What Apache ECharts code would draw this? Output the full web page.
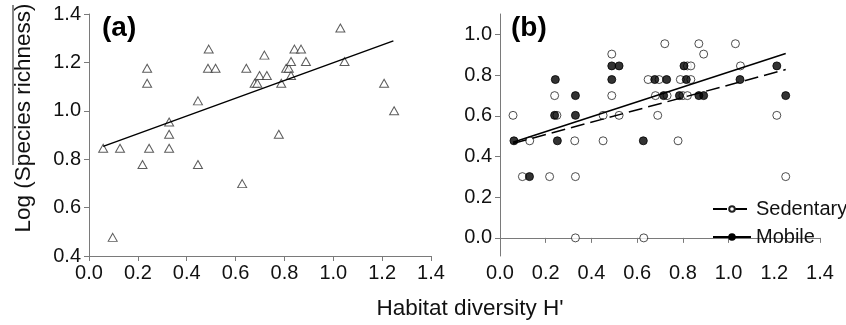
<!DOCTYPE html>
<html>
<head>
<meta charset="utf-8">
<script src="https://cdn.jsdelivr.net/npm/echarts@6/dist/echarts.min.js"></script>
<style>html,body{margin:0;padding:0;background:#fff;}#c{width:846px;height:325px;}</style>
</head>
<body>
<div id="c"></div>
<script>
// ---- Data ----
const xTicks = [0, 0.2, 0.4, 0.6, 0.8, 1.0, 1.2, 1.4];
const yTicksA = [0.4, 0.6, 0.8, 1.0, 1.2, 1.4];
const yTicksB = [0.0, 0.2, 0.4, 0.6, 0.8, 1.0];

// Panel (a): all species
const aX = [0.058,0.127,0.238,0.238,0.246,0.219,0.328,0.328,0.328,0.097,0.446,0.446,0.490,0.487,0.518,0.627,0.644,0.678,0.689,0.698,0.718,0.728,0.777,0.787,0.807,0.818,0.827,0.827,0.841,0.868,0.888,1.029,1.046,1.208,1.249];
const aY = [0.845,0.845,1.176,1.114,0.845,0.778,0.954,0.903,0.845,0.477,1.041,0.778,1.255,1.176,1.176,0.699,1.176,1.114,1.114,1.146,1.230,1.146,0.903,1.114,1.176,1.176,1.146,1.204,1.255,1.255,1.204,1.342,1.204,1.114,1.000];
const aLineX = [0.058, 1.246];
const aLineY = [0.853, 1.289];

// Panel (b): sedentary (open) and mobile (filled)
const sedX = [0.057,0.130,0.098,0.217,0.239,0.249,0.327,0.330,0.330,0.451,0.451,0.489,0.489,0.521,0.629,0.648,0.680,0.690,0.696,0.721,0.731,0.779,0.789,0.800,0.835,0.820,0.835,0.820,0.870,0.891,1.030,1.052,1.211,1.250];
const sedY = [0.602,0.477,0.301,0.301,0.699,0.602,0.477,0.301,0.000,0.602,0.477,0.903,0.699,0.602,0.000,0.778,0.699,0.602,0.778,0.954,0.699,0.477,0.778,0.699,0.778,0.845,0.845,0.699,0.954,0.903,0.954,0.845,0.602,0.301];
const mobX = [0.061,0.129,0.242,0.239,0.251,0.330,0.330,0.489,0.521,0.489,0.627,0.677,0.729,0.716,0.785,0.805,0.815,0.870,0.891,1.050,1.211,1.250];
const mobY = [0.477,0.301,0.778,0.602,0.477,0.699,0.602,0.845,0.845,0.778,0.477,0.778,0.778,0.699,0.699,0.845,0.778,0.699,0.699,0.778,0.845,0.699];
const sedLineX = [0.057, 1.250];
const sedLineY = [0.464, 0.827];
const mobLineX = [0.057, 1.250];
const mobLineY = [0.470, 0.906];

const seriesNames = ['Sedentary', 'Mobile'];
const panelLabels = ['(a)', '(b)'];
const yTitle = 'Log (Species richness)';
const xTitle = "Habitat diversity H'";

// ---- Build ----
const zip = (xs, ys) => xs.map((x, i) => [x, ys[i]]);
const FONT = "'Liberation Sans', Arial, sans-serif";
const AX = '#7a7a7a';
const fmt = v => Number(v).toFixed(1);

function xAxisDef(idx) {
  return {
    gridIndex: idx, type: 'value', min: 0, max: 1.4,
    axisLine: {show: true, lineStyle: {color: AX, width: 1}},
    axisTick: {show: true, inside: false, length: 5, lineStyle: {color: AX}, customValues: xTicks},
    axisLabel: {customValues: xTicks, formatter: fmt, fontFamily: FONT, fontSize: 20, color: '#111', margin: 7},
    splitLine: {show: false}
  };
}
function yAxisDef(idx, min, max, ticks) {
  return {
    gridIndex: idx, type: 'value', min: min, max: max,
    axisLine: {show: true, onZero: false, lineStyle: {color: AX, width: 1}},
    axisTick: {show: true, inside: false, length: 5, lineStyle: {color: AX}, customValues: ticks},
    axisLabel: {customValues: ticks, formatter: fmt, fontFamily: FONT, fontSize: 20, color: '#111', margin: 8},
    splitLine: {show: false}
  };
}

const openStyle = {color: '#ffffff', borderColor: '#222', borderWidth: 1};
const fillStyle = {color: '#000000', borderColor: '#000', borderWidth: 1};

const option = {
  animation: false,
  backgroundColor: '#ffffff',
  grid: [
    {left: 89, top: 14, width: 342, height: 242},
    {left: 500, top: 14, width: 320, height: 242}
  ],
  xAxis: [xAxisDef(0), xAxisDef(1)],
  yAxis: [yAxisDef(0, 0.4, 1.4, yTicksA), yAxisDef(1, -0.089, 1.1, yTicksB)],
  legend: {
    data: seriesNames,
    orient: 'vertical', left: 712, top: 198, padding: 0,
    itemWidth: 38, itemHeight: 7, itemGap: 6,
    textStyle: {fontFamily: FONT, fontSize: 20, color: '#111', lineHeight: 22},
    selectedMode: false
  },
  series: [
    {type: 'scatter', name: 'all', xAxisIndex: 0, yAxisIndex: 0, data: zip(aX, aY),
     symbol: 'triangle', symbolSize: [9, 8], itemStyle: {color: '#fff', borderColor: '#333', borderWidth: 1}},
    {type: 'line', name: 'fitA', xAxisIndex: 0, yAxisIndex: 0, data: zip(aLineX, aLineY),
     showSymbol: false, symbol: 'none', lineStyle: {color: '#000', width: 1.5}},
    {type: 'scatter', name: 'sedPts', xAxisIndex: 1, yAxisIndex: 1, data: zip(sedX, sedY),
     symbol: 'circle', symbolSize: 8, itemStyle: openStyle},
    {type: 'scatter', name: 'mobPts', xAxisIndex: 1, yAxisIndex: 1, data: zip(mobX, mobY),
     symbol: 'circle', symbolSize: 8, itemStyle: fillStyle},
    {type: 'line', name: seriesNames[0], xAxisIndex: 1, yAxisIndex: 1, data: zip(sedLineX, sedLineY),
     showSymbol: false, symbol: 'circle', symbolSize: 7, itemStyle: openStyle,
     lineStyle: {color: '#000', width: 1.5, type: [14, 6]}},
    {type: 'line', name: seriesNames[1], xAxisIndex: 1, yAxisIndex: 1, data: zip(mobLineX, mobLineY),
     showSymbol: false, symbol: 'circle', symbolSize: 7, itemStyle: fillStyle,
     lineStyle: {color: '#000', width: 1.5}}
  ],
  graphic: [
    {type: 'text', left: 102, top: 14, style: {text: panelLabels[0], font: "bold 28px " + FONT, fill: '#000'}},
    {type: 'text', left: 511, top: 14, style: {text: panelLabels[1], font: "bold 28px " + FONT, fill: '#000'}},
    {type: 'text', x: 24, y: 118, rotation: Math.PI / 2,
     style: {text: yTitle, font: "22.5px " + FONT, fill: '#111', align: 'center', verticalAlign: 'middle'}},
    {type: 'line', shape: {x1: 13, y1: 5, x2: 13, y2: 165}, style: {stroke: '#111', lineWidth: 1}},
    {type: 'text', x: 470, y: 309,
     style: {text: xTitle, font: "22.5px " + FONT, fill: '#111', align: 'center', verticalAlign: 'middle'}}
  ]
};

const chart = echarts.init(document.getElementById('c'), null, {renderer: 'canvas'});
chart.setOption(option);
</script>
</body>
</html>
